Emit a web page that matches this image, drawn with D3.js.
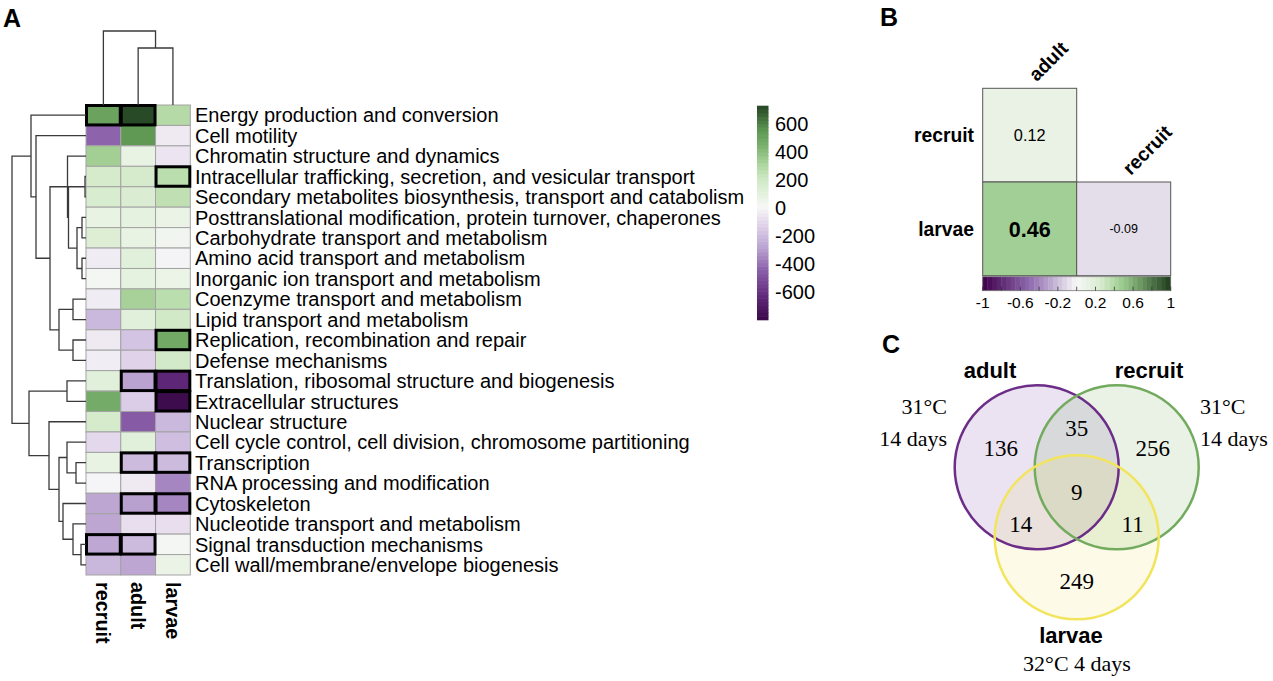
<!DOCTYPE html>
<html><head><meta charset="utf-8">
<script src="https://cdn.jsdelivr.net/npm/d3@7"></script>
<style>
body{margin:0;background:#fff}
svg{display:block}
text{font-family:"Liberation Sans",Arial,Helvetica,sans-serif;fill:#000}
.serif{font-family:"Liberation Serif","Times New Roman",serif}
</style></head>
<body><svg id="chart" width="1273" height="681"></svg>
<script>
// ---------------- DATA ----------------
const categories = [
  "Energy production and conversion",
  "Cell motility",
  "Chromatin structure and dynamics",
  "Intracellular trafficking, secretion, and vesicular transport",
  "Secondary metabolites biosynthesis, transport and catabolism",
  "Posttranslational modification, protein turnover, chaperones",
  "Carbohydrate transport and metabolism",
  "Amino acid transport and metabolism",
  "Inorganic ion transport and metabolism",
  "Coenzyme transport and metabolism",
  "Lipid transport and metabolism",
  "Replication, recombination and repair",
  "Defense mechanisms",
  "Translation, ribosomal structure and biogenesis",
  "Extracellular structures",
  "Nuclear structure",
  "Cell cycle control, cell division, chromosome partitioning",
  "Transcription",
  "RNA processing and modification",
  "Cytoskeleton",
  "Nucleotide transport and metabolism",
  "Signal transduction mechanisms",
  "Cell wall/membrane/envelope biogenesis"
];
const samples = ["recruit", "adult", "larvae"];
const recruitValues = [500, -440, 330, 170, 155, 70, 130, -40, 15, -40, -220, -50, -35, 110, 460, 170, -110, 70, -10, -280, -280, -275, -225];
const adultValues   = [710, 540, 70, 170, 145, 85, 75, 110, 90, 320, 110, -180, -130, -290, -150, -470, 110, -210, -50, -300, -90, -210, -280];
const larvaeValues  = [280, -50, -65, 260, 245, 60, 30, -15, 55, 260, 190, 470, 180, -650, -790, -220, -200, -210, -360, -360, -90, 15, 60];
const recruitSignif = [1,0,0,0,0,0,0,0,0,0,0,0,0,0,0,0,0,0,0,0,0,1,0];
const adultSignif   = [1,0,0,0,0,0,0,0,0,0,0,0,0,1,0,0,0,1,0,1,0,1,0];
const larvaeSignif  = [0,0,0,1,0,0,0,0,0,0,0,1,0,1,1,0,0,1,0,1,0,0,0];
// dendrograms: [left, right, mergeHeight]; numbers are leaf indices
const rowTree = [
  [0, [1, [[2, [[3, 4, 1], [[5, 6, 4], [7, 8, 4], 9], 17.5], 18.5], [[9, 10, 13], [11, 12, 13], 27], 36], 50], 55],
  [[13, 14, 19], [15, [[16, [17, 18, 10], 19], [19, [20, [21, 22, 5], 13], 23], 27], 37], 57],
  74];
const colTree = [0, [1, 2, 57], 74];
const heatLegendTicks = [600, 400, 200, 0, -200, -400, -600];
const heatRange = [-807, 721];

// Panel B
const corrRowLabels = ["recruit", "larvae"];
const corrColLabels = ["adult", "recruit"];
const corrPairRow = ["recruit", "larvae", "larvae"];
const corrPairCol = ["adult", "adult", "recruit"];
const corrValues = [0.12, 0.46, -0.09];
const corrSignif = [0, 1, 0];
const corrTicks = [-1, -0.6, -0.2, 0.2, 0.6, 1];

// Panel C
const vennSets = ["adult", "recruit", "larvae"];
const vennRegions = ["adult only", "adult & recruit", "recruit only", "all three", "adult & larvae", "recruit & larvae", "larvae only"];
const vennCounts = [136, 35, 256, 9, 14, 11, 249];
const vennConditionsAdult = ["31°C", "14 days"];
const vennConditionsRecruit = ["31°C", "14 days"];
const vennConditionsLarvae = ["32°C 4 days"];

// ---------------- DRAW ----------------
const svg = d3.select("#chart");

// Panel letters
[["A", 3, 27], ["B", 880, 26], ["C", 882, 353]].forEach(([t, x, y]) => {
  svg.append("text").attr("x", x).attr("y", y).attr("font-size", 25).attr("font-weight", "bold").text(t);
});

// ---- Panel A: heatmap ----
const colorStops = [-800, -650, -450, -300, -200, -100, 0, 100, 200, 300, 450, 550, 720];
const colorVals = ["#3b0a4a", "#5e2677", "#8a60a9", "#b8a0cf", "#cfbee0", "#e6dbed", "#f7f7f7", "#e3f1dc", "#cfe8c5", "#aed79f", "#76ad6a", "#5d9752", "#264524"];
const heatColor = d3.scaleLinear().domain(colorStops).range(colorVals).clamp(true);

const hx = d3.scaleBand().domain(samples).range([86, 190.3]);
const hy = d3.scaleBand().domain(categories).range([105, 575]);
const seriesValues = [recruitValues, adultValues, larvaeValues];
const seriesSignif = [recruitSignif, adultSignif, larvaeSignif];

const cells = [];
samples.forEach((s, j) => categories.forEach((c, i) => cells.push({s, c, v: seriesValues[j][i], sig: seriesSignif[j][i]})));

const gHeat = svg.append("g");
gHeat.selectAll("rect.cell").data(cells).join("rect").attr("class", "cell")
  .attr("x", d => hx(d.s)).attr("y", d => hy(d.c))
  .attr("width", hx.bandwidth()).attr("height", hy.bandwidth())
  .attr("fill", d => heatColor(d.v)).attr("stroke", "#a3a3a3").attr("stroke-width", 1);
gHeat.selectAll("rect.sig").data(cells.filter(d => d.sig)).join("rect").attr("class", "sig")
  .attr("x", d => hx(d.s) + 0.5).attr("y", d => hy(d.c) + 0.5)
  .attr("width", hx.bandwidth() - 1).attr("height", hy.bandwidth() - 1)
  .attr("fill", "none").attr("stroke", "#000").attr("stroke-width", 3);

// row labels
gHeat.selectAll("text.rl").data(categories).join("text").attr("class", "rl")
  .attr("x", 195).attr("y", d => hy(d) + hy.bandwidth() / 2)
  .attr("dy", "0.36em").attr("font-size", 20).text(d => d);
// column labels
gHeat.selectAll("text.cl").data(samples).join("text").attr("class", "cl")
  .attr("transform", d => `translate(${hx(d) + hx.bandwidth() / 2},582) rotate(90)`)
  .attr("dy", "0.36em").attr("font-size", 19.8).attr("font-weight", "bold").text(d => d);

// dendrograms
function drawTree(node, posOf, hScale, paths, vertical) {
  if (typeof node === "number") return {p: posOf(node), h: 0};
  const a = drawTree(node[0], posOf, hScale, paths, vertical);
  const b = drawTree(node[1], posOf, hScale, paths, vertical);
  const h = node[2];
  if (!vertical) {
    paths.push(`M${hScale(a.h)},${a.p}H${hScale(h)}V${b.p}H${hScale(b.h)}`);
  } else {
    paths.push(`M${a.p},${hScale(a.h)}V${hScale(h)}H${b.p}V${hScale(b.h)}`);
  }
  return {p: (a.p + b.p) / 2, h};
}
const rowH = d3.scaleLinear().domain([0, 74]).range([86, 12]);
const rowPaths = [];
drawTree(rowTree, i => hy(categories[i]) + hy.bandwidth() / 2, rowH, rowPaths, false);
const colH = d3.scaleLinear().domain([0, 74]).range([105, 31]);
const colPaths = [];
drawTree(colTree, i => hx(samples[i]) + hx.bandwidth() / 2, colH, colPaths, true);
svg.append("g").selectAll("path").data(rowPaths.concat(colPaths)).join("path")
  .attr("d", d => d).attr("fill", "none").attr("stroke", "#3a3a3a").attr("stroke-width", 1.3);

// heatmap legend
const ly = d3.scaleLinear().domain(heatRange).range([320, 106]);
const nStripes = 60;
const stripeVals = d3.range(nStripes).map(i => heatRange[0] + (i + 0.5) * (heatRange[1] - heatRange[0]) / nStripes);
const stripeH = (320 - 106) / nStripes;
svg.append("g").selectAll("rect").data(stripeVals).join("rect")
  .attr("x", 757).attr("width", 11.5)
  .attr("y", d => ly(d) - stripeH / 2 - 0.3).attr("height", stripeH + 0.6)
  .attr("fill", d => heatColor(d));
svg.append("g").selectAll("text").data(heatLegendTicks).join("text")
  .attr("x", 775).attr("y", d => ly(d) + 1).attr("dy", "0.36em").attr("font-size", 20).text(d => d);

// ---- Panel B: correlation ----
const corrColor = d3.scaleLinear().domain([-1, -0.5, 0, 0.25, 0.5, 1])
  .range(["#40004b", "#8e6aae", "#f7f7f7", "#d9ecd0", "#98c98a", "#1f3d1c"]);
const bx = d3.scaleBand().domain(corrColLabels).range([982.7, 1170.7]);
const by = d3.scaleBand().domain(corrRowLabels).range([88.3, 275.7]);
const corrCells = corrValues.map((v, i) => ({r: corrPairRow[i], c: corrPairCol[i], v, sig: corrSignif[i]}));
const gB = svg.append("g");
gB.selectAll("rect").data(corrCells).join("rect")
  .attr("x", d => bx(d.c)).attr("y", d => by(d.r))
  .attr("width", bx.bandwidth()).attr("height", by.bandwidth())
  .attr("fill", d => corrColor(d.v)).attr("stroke", "#555").attr("stroke-width", 1);
const corrFont = d3.scaleLinear().domain([0.09, 0.12, 0.46]).range([12.5, 16.3, 21.5]);
gB.selectAll("text.val").data(corrCells).join("text").attr("class", "val")
  .attr("x", d => bx(d.c) + bx.bandwidth() / 2).attr("y", d => by(d.r) + by.bandwidth() / 2)
  .attr("text-anchor", "middle").attr("dy", "0.36em")
  .attr("font-size", d => corrFont(Math.abs(d.v))).attr("font-weight", d => d.sig ? "bold" : "normal")
  .text(d => d.v.toFixed(2));
gB.selectAll("text.rl").data(corrRowLabels).join("text").attr("class", "rl")
  .attr("x", 974).attr("y", d => by(d) + by.bandwidth() / 2).attr("dy", "0.36em")
  .attr("text-anchor", "end").attr("font-size", 19.3).attr("font-weight", "bold").text(d => d);
gB.selectAll("text.cl").data(corrColLabels).join("text").attr("class", "cl")
  .attr("transform", (d, j) => `translate(${bx(d) + bx.bandwidth() / 2 + 7},${by(corrRowLabels[j]) - 6}) rotate(-45)`)
  .attr("font-size", 19.3).attr("font-weight", "bold").text(d => d);
// colorbar
const cbx = d3.scaleLinear().domain([-1, 1]).range([982.7, 1170.7]);
const nB = 40;
const cbVals = d3.range(nB).map(i => -1 + (i + 0.5) * 2 / nB);
gB.append("g").selectAll("rect").data(cbVals).join("rect")
  .attr("x", d => cbx(d - 1 / nB) - 0.2).attr("width", (cbx(1) - cbx(-1)) / nB + 0.4)
  .attr("y", 276.7).attr("height", 14).attr("fill", d => corrColor(d));
gB.append("rect").attr("x", 982.7).attr("y", 276.7).attr("width", 188).attr("height", 14)
  .attr("fill", "none").attr("stroke", "#777").attr("stroke-width", 0.8);
gB.append("g").selectAll("line").data(d3.range(-1, 1.001, 0.2)).join("line")
  .attr("x1", d => cbx(d)).attr("x2", d => cbx(d)).attr("y1", 286.7).attr("y2", 290.7)
  .attr("stroke", "#333").attr("stroke-width", 0.8);
gB.append("g").selectAll("text").data(corrTicks).join("text")
  .attr("x", d => cbx(d)).attr("y", 308).attr("text-anchor", "middle")
  .attr("font-size", 15.5).text(d => String(d));

// ---- Panel C: Venn ----
const vc = {x: 1076.7, y: 467.3};
const vr = 82;
const circleCenters = [[vc.x - 40, vc.y], [vc.x + 40, vc.y], [vc.x, vc.y + 70]];
const vennFill = ["#7030a0", "#6aa84f", "#f0e050"];
const vennStroke = ["#6b2d87", "#72ab5e", "#f2e45c"];
const vennOpacity = [0.14, 0.15, 0.13];
const gC = svg.append("g");
gC.selectAll("circle.f").data(vennSets).join("circle").attr("class", "f")
  .attr("cx", (d, i) => circleCenters[i][0]).attr("cy", (d, i) => circleCenters[i][1]).attr("r", vr)
  .attr("fill", (d, i) => vennFill[i]).attr("fill-opacity", (d, i) => vennOpacity[i]);
gC.selectAll("circle.s").data(vennSets).join("circle").attr("class", "s")
  .attr("cx", (d, i) => circleCenters[i][0]).attr("cy", (d, i) => circleCenters[i][1]).attr("r", vr)
  .attr("fill", "none").attr("stroke", (d, i) => vennStroke[i]).attr("stroke-width", 2.5);
const centroid = [vc.x, (circleCenters[0][1] + circleCenters[1][1] + circleCenters[2][1]) / 3];
const regionOffsets = [[-76, -43], [0, -63], [76, -43], [0, 1], [-56, 33], [56, 33], [0, 90]];
gC.selectAll("text.cnt").data(vennCounts).join("text").attr("class", "cnt serif")
  .attr("x", (d, i) => centroid[0] + regionOffsets[i][0]).attr("y", (d, i) => centroid[1] + regionOffsets[i][1])
  .attr("text-anchor", "middle").attr("dy", "0.35em").attr("font-size", 23).text(d => d);
const setLabelPos = [[990, 378], [1149, 378], [1071, 643]];
gC.selectAll("text.set").data(vennSets).join("text").attr("class", "set")
  .attr("x", (d, i) => setLabelPos[i][0]).attr("y", (d, i) => setLabelPos[i][1])
  .attr("text-anchor", "middle").attr("font-size", 22).attr("font-weight", "bold").text(d => d);
vennConditionsAdult.forEach((t, i) => gC.append("text").attr("class", "serif")
  .attr("x", 947).attr("y", 414 + i * 32).attr("text-anchor", "end").attr("font-size", 22).text(t));
vennConditionsRecruit.forEach((t, i) => gC.append("text").attr("class", "serif")
  .attr("x", 1200).attr("y", 414 + i * 32).attr("text-anchor", "start").attr("font-size", 22).text(t));
vennConditionsLarvae.forEach((t, i) => gC.append("text").attr("class", "serif")
  .attr("x", 1077).attr("y", 671 + i * 32).attr("text-anchor", "middle").attr("font-size", 22).text(t));
</script>
</body></html>
